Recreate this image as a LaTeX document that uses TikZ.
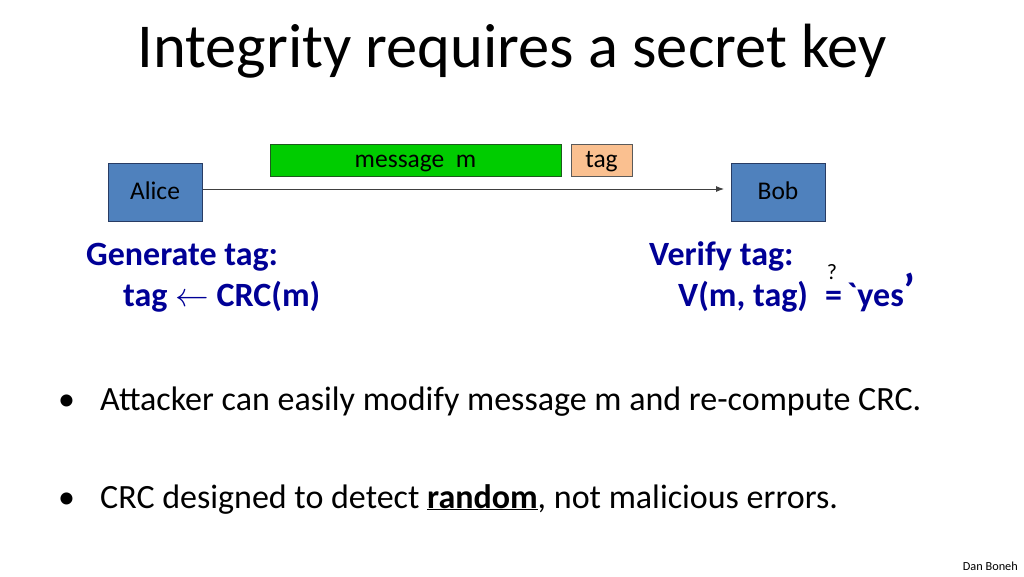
\documentclass[tikz,border=0pt]{standalone}
\usepackage{fontspec}
\setmainfont{Carlito}
\newfontfamily\rawcarlito{Carlito}
\usetikzlibrary{arrows.meta}
\definecolor{boxblue}{RGB}{79,129,189}
\definecolor{boxblueedge}{RGB}{40,60,100}
\definecolor{msggreen}{RGB}{0,204,0}
\definecolor{msgedge}{RGB}{30,90,30}
\definecolor{tagpeach}{RGB}{250,192,144}
\definecolor{tagedge}{RGB}{90,90,90}
\definecolor{navy}{RGB}{0,0,150}
\tikzset{
  party/.style={draw=boxblueedge, line width=1pt, fill=boxblue, minimum width=94pt, minimum height=58pt, inner sep=0pt, text height=14pt, text depth=0pt, font=\fontsize{25.5}{30}\selectfont},
  packet/.style={draw=#1, line width=0.8pt, minimum height=32pt, inner sep=0pt, text height=15pt, text depth=0pt, font=\fontsize{25.5}{30}\selectfont},
  navytext/.style={text=navy, font=\fontsize{34}{40}\selectfont\bfseries, inner sep=0pt},
  bullettext/.style={font=\fontsize{34}{40}\selectfont, inner sep=0pt},
}
\begin{document}
\begin{tikzpicture}[x=1pt,y=-1pt]
\useasboundingbox (0,0) rectangle (1024,576);
% title
\node[anchor=base, inner sep=0pt, font=\fontsize{62.5}{72}\selectfont] (title) at (512,67) {Integrity requires a secret key};
% parties
\node[party] (alice) at (155,192) {Alice};
\node[party] (bob) at (778,192) {Bob};
% packet
\node[packet=msgedge, fill=msggreen, minimum width=291pt] (msg) at (415.5,160) {message\ \ m};
\node[packet=tagedge, fill=tagpeach, minimum width=61pt] (tag) at (601.5,160) {tag};
% arrow
\coordinate (arrowend) at (724,189);
\draw[line width=0.9pt, draw=black!75, -{Latex[length=8pt,width=6pt]}] (alice.east |- arrowend) -- (arrowend);
% generate
\node[navytext, anchor=base west] (gen) at (86,265) {Generate tag:};
\node[navytext, anchor=base west] (genf) at (123,306) {tag \scalebox{1.35}{$\leftarrow$} CRC(m)};
% verify
\node[navytext, anchor=base west] (ver) at (649,265) {Verify tag:};
\node[navytext, anchor=base west] (verf) at (678,306) {V(m, tag)};
\node[navytext, anchor=base west] (eq) at (825,306) {=};
\node[inner sep=0pt, anchor=base, font=\fontsize{22}{26}\selectfont] (q) at (832,279) {?};
\node[navytext, anchor=base west] (yes) at (847,306) {{\rawcarlito\bfseries `}yes{\fontsize{46}{50}\selectfont ’}};
% bullets
\node[bullettext, anchor=base west] (b1) at (58,410) {•};
\node[bullettext, anchor=base west] (t1) at (100,410) {Attacker can easily modify message m and re-compute CRC.};
\node[bullettext, anchor=base west] (b2) at (58,508) {•};
\node[bullettext, anchor=base west] (t2) at (100,508) {CRC designed to detect \underline{\textbf{random}}, not malicious errors.};
% footer
\node[inner sep=0pt, anchor=base east, font=\fontsize{12.3}{14}\selectfont] (foot) at (1018,570) {Dan Boneh};
\end{tikzpicture}
\end{document}
